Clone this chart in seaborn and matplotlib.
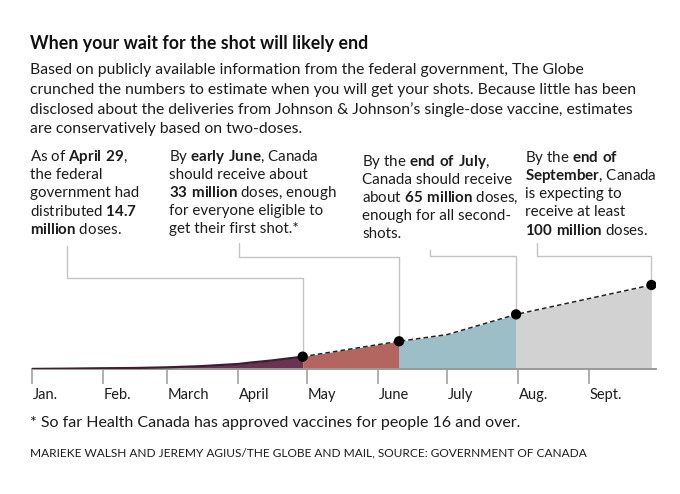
import numpy as np
import pandas as pd
import matplotlib.pyplot as plt
import matplotlib.dates as mdates
import matplotlib.transforms as mtransforms
import seaborn as sns

# Doses distributed so far (millions)
hist_dates = pd.to_datetime(["2021-01-01", "2021-01-15", "2021-02-01", "2021-02-15",
                             "2021-03-01", "2021-03-15", "2021-04-01", "2021-04-06",
                             "2021-04-15", "2021-04-29"])
hist_doses = [0.1, 0.4, 0.9, 1.2, 2.0, 3.3, 6.0, 7.6, 10.0, 14.7]

# Projected deliveries (millions)
proj_dates = pd.to_datetime(["2021-04-29", "2021-06-10", "2021-07-01", "2021-07-31", "2021-09-28"])
proj_doses = [14.7, 33, 41, 65, 100]
milestone_idx = [0, 1, 3, 4]

month_ticks = pd.date_range("2021-01-01", "2021-09-01", freq="MS")
month_labels = ["Jan.", "Feb.", "March", "April", "May", "June", "July", "Aug.", "Sept."]

seg_colors = ["#b2665f", "#9cbec7", "#d2d2d3"]
hist_color = "#6a3352"

title = "When your wait for the shot will likely end"
subtitle = [
    "Based on publicly available information from the federal government, The Globe",
    "crunched the numbers to estimate when you will get your shots. Because little has been",
    "disclosed about the deliveries from Johnson & Johnson\u2019s single-dose vaccine, estimates",
    "are conservatively based on two-doses.",
]
notes = [
    ["As of $\\mathbf{April\\ 29}$,", "the federal", "government had",
     "distributed $\\mathbf{14.7}$", "$\\mathbf{million}$ doses."],
    ["By $\\mathbf{early\\ June}$, Canada", "should receive about",
     "$\\mathbf{33\\ million}$ doses, enough", "for everyone eligible to",
     "get their first shot.*"],
    ["By the $\\mathbf{end\\ of\\ July}$,", "Canada should receive",
     "about $\\mathbf{65\\ million}$ doses,", "enough for all second-", "shots."],
    ["By the $\\mathbf{end\\ of}$", "$\\mathbf{September}$, Canada", "is expecting to",
     "receive at least", "$\\mathbf{100\\ million}$ doses."],
]
footnote = "* So far Health Canada has approved vaccines for people 16 and over."
credit = "MARIEKE WALSH AND JEREMY AGIUS/THE GLOBE AND MAIL, SOURCE: GOVERNMENT OF CANADA"

sns.set_style("white")
plt.rcParams["font.family"] = ["Lato", "DejaVu Sans"]
plt.rcParams["mathtext.fontset"] = "custom"
plt.rcParams["mathtext.rm"] = "Lato"
plt.rcParams["mathtext.bf"] = "Lato:bold"
txt = "#1c1c1c"

W, H = 680, 494
fig = plt.figure(figsize=(W / 100, H / 100), dpi=100)


def fx(px):
    return px / W


def fy(py):
    return 1 - py / H


# plot area: x 32..656 px, y 140..369 px
ax = fig.add_axes([fx(32), fy(369), fx(624), 229 / H])
ax.set_xlim(pd.Timestamp("2021-01-01"), pd.Timestamp("2021-09-30"))
ax.set_ylim(0, 229 / 0.84)

# history
ax.fill_between(hist_dates, 0, hist_doses, color=hist_color, lw=0, zorder=2)
sns.lineplot(x=hist_dates, y=hist_doses, color="#3d1f30", lw=1.6, ax=ax, zorder=3)

# projected segments
bounds = [(0, 1), (1, 3), (3, 4)]
for (a, b), c in zip(bounds, seg_colors):
    ax.fill_between(proj_dates[a:b + 1], 0, proj_doses[a:b + 1], color=c, lw=0, zorder=2)
sns.lineplot(x=proj_dates, y=proj_doses, color="#222222", lw=1.1, ax=ax,
             linestyle=(0, (3, 2)), zorder=4)

# leader lines (figure pixels for elbows / text anchors)
elbows = [(67, 278, 246), (239, 257, 243), (430, 256, 250), (537, 256, 243)]
inv = fig.transFigure.inverted()
for i, (tx, ey, ty) in zip(milestone_idx, elbows):
    px, py = inv.transform(ax.transData.transform((mdates.date2num(proj_dates[i]), proj_doses[i])))
    xs = [px, px, fx(tx), fx(tx)]
    ys = [py, fy(ey), fy(ey), fy(ty)]
    fig.add_artist(plt.Line2D(xs, ys, color="#c4c4c4", lw=1.0, zorder=-1))

sns.scatterplot(x=proj_dates[milestone_idx], y=[proj_doses[i] for i in milestone_idx],
                color="black", s=55, edgecolor="none", ax=ax, zorder=5)

# axis
ax.patch.set_alpha(0)
sns.despine(ax=ax, left=True, right=True, top=True)
ax.spines["bottom"].set_color("#9a9a9a")
ax.spines["bottom"].set_linewidth(1.4)
ax.set_yticks([])
ax.set_xticks(month_ticks)
ax.set_xticklabels(month_labels, ha="left", fontsize=10.5, color=txt)
ax.tick_params(axis="x", bottom=True, direction="out", length=11, width=1.1,
               color="#9a9a9a", pad=3)
ax.set_xlabel("")
ax.set_ylabel("")
shift = mtransforms.ScaledTranslation(0.5 / 100, 0, fig.dpi_scale_trans)
for lab in ax.get_xticklabels():
    lab.set_transform(lab.get_transform() + shift)

# texts
fig.text(fx(30), fy(43), title, fontsize=12.8, fontweight="bold", color="#111111", va="center")
for k, line in enumerate(subtitle):
    fig.text(fx(30), fy(70 + k * 19.6), line, fontsize=11.3, color=txt, va="center")

note_pos = [(30, 157), (169, 157), (362, 162), (525, 158)]
for (nx, ny), lines in zip(note_pos, notes):
    for k, line in enumerate(lines):
        fig.text(fx(nx), fy(ny + k * 18), line, fontsize=10.9, color=txt, va="center")

fig.text(fx(30), fy(423), footnote, fontsize=11.5, color=txt, va="center")
fig.text(fx(30), fy(453), credit, fontsize=8.6, color=txt, va="center")

fig.savefig("out.png", dpi=100, facecolor="white")
